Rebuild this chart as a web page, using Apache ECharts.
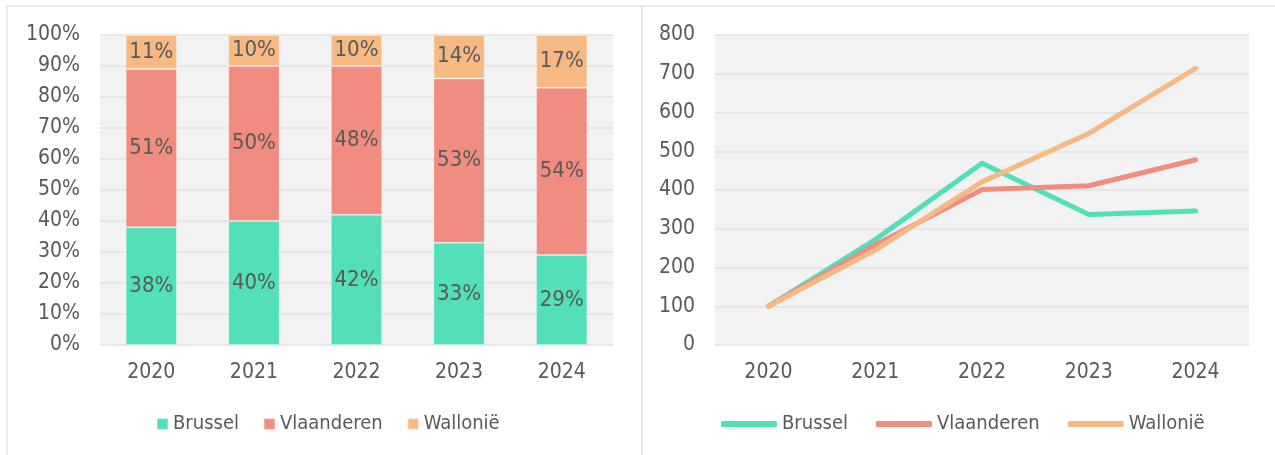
<!DOCTYPE html>
<html>
<head>
<meta charset="utf-8">
<script src="https://cdn.jsdelivr.net/npm/echarts@6/dist/echarts.min.js"></script>
<style>
  html, body { margin: 0; padding: 0; background: #ffffff; }
  body { width: 1275px; height: 455px; position: relative; overflow: hidden; }
  #left { position: absolute; left: 0; top: 0; width: 642px; height: 455px; }
  #right { position: absolute; left: 643px; top: 0; width: 632px; height: 455px; }
  .bt { position: absolute; left: 7px; top: 5px; width: 1268px; height: 2px; background: #ebebeb; }
  .bl { position: absolute; left: 6px; top: 5px; width: 2px; height: 450px; background: #ebebeb; }
  .bm { position: absolute; left: 641px; top: 5px; width: 2px; height: 450px; background: #e6e6e6; }
</style>
</head>
<body>
<div class="bt"></div><div class="bl"></div><div class="bm"></div>
<div id="left"></div>
<div id="right"></div>
<script>
const years = ['2020', '2021', '2022', '2023', '2024'];
const seriesNames = ['Brussel', 'Vlaanderen', 'Wallonië'];
// share (%) per region, stacked
const shareBrussel = [38, 40, 42, 33, 29];
const shareVlaanderen = [51, 50, 48, 53, 54];
const shareWallonie = [11, 10, 10, 14, 17];
// index (2020 = 100)
const indexBrussel = [100, 272, 469, 337, 346];
const indexVlaanderen = [100, 258, 401, 411, 478];
const indexWallonie = [100, 245, 421, 546, 714];
const percentTicks = ['0%', '10%', '20%', '30%', '40%', '50%', '60%', '70%', '80%', '90%', '100%'];

const colors = ['#52DFB9', '#F08C80', '#F7B982'];
const FONT = '"DejaVu Sans Condensed", "DejaVu Sans", sans-serif';
const TXT = '#595959';
const FS = 21;
const LFS = 22;

const left = echarts.init(document.getElementById('left'), null, { renderer: 'canvas' });
const right = echarts.init(document.getElementById('right'), null, { renderer: 'canvas' });

const gridLine = { show: true, lineStyle: { color: '#e2e2e2', width: 1.5 } };

function barSeries(name, data, color) {
  return {
    name: name, type: 'bar', stack: 'total', data: data, barWidth: '50%',
    itemStyle: { color: color, borderColor: 'rgba(255,255,255,0.3)', borderWidth: 1 },
    label: { show: true, position: 'inside', formatter: '{c}%', color: TXT, fontSize: LFS, fontFamily: FONT },
    emphasis: { disabled: true }
  };
}

left.setOption({
  animation: false,
  textStyle: { fontFamily: FONT },
  grid: { left: 100, right: 29, top: 35, bottom: 110, show: true, backgroundColor: '#f2f2f2', borderWidth: 0 },
  legend: {
    data: seriesNames, left: 151, top: 409, icon: 'rect', itemWidth: 11, itemHeight: 11, itemGap: 24,
    textStyle: { color: TXT, fontSize: 20, fontFamily: FONT }
  },
  xAxis: {
    type: 'category', data: years,
    axisLine: { show: false }, axisTick: { show: false },
    axisLabel: { color: TXT, fontSize: FS, fontFamily: FONT, margin: 17 }
  },
  yAxis: {
    type: 'value', min: 0, max: 100, interval: 10,
    axisLine: { show: false }, axisTick: { show: false },
    splitLine: gridLine,
    axisLabel: { color: TXT, fontSize: FS, fontFamily: FONT, margin: 20,
      formatter: function (v) { return percentTicks[Math.round(v / 10)]; } }
  },
  series: [
    barSeries(seriesNames[0], shareBrussel, colors[0]),
    barSeries(seriesNames[1], shareVlaanderen, colors[1]),
    barSeries(seriesNames[2], shareWallonie, colors[2])
  ]
});

function lineSeries(name, data, color) {
  return {
    name: name, type: 'line', data: data, symbol: 'none', smooth: false,
    lineStyle: { color: color, width: 5, cap: 'round', join: 'round' },
    itemStyle: { color: color },
    emphasis: { disabled: true }
  };
}

right.setOption({
  animation: false,
  textStyle: { fontFamily: FONT },
  grid: { left: 72, right: 26, top: 35, bottom: 110, show: true, backgroundColor: '#f2f2f2', borderWidth: 0 },
  legend: {
    data: seriesNames, left: 73, top: 409, icon: 'roundRect', itemWidth: 56, itemHeight: 6, itemGap: 28,
    textStyle: { color: TXT, fontSize: 20, fontFamily: FONT }
  },
  xAxis: {
    type: 'category', data: years, boundaryGap: true,
    axisLine: { show: false }, axisTick: { show: false },
    axisLabel: { color: TXT, fontSize: FS, fontFamily: FONT, margin: 17 }
  },
  yAxis: {
    type: 'value', min: 0, max: 800, interval: 100,
    axisLine: { show: false }, axisTick: { show: false },
    splitLine: gridLine,
    axisLabel: { color: TXT, fontSize: FS, fontFamily: FONT, margin: 20 }
  },
  series: [
    lineSeries(seriesNames[0], indexBrussel, colors[0]),
    lineSeries(seriesNames[1], indexVlaanderen, colors[1]),
    lineSeries(seriesNames[2], indexWallonie, colors[2])
  ]
});
</script>
</body>
</html>
